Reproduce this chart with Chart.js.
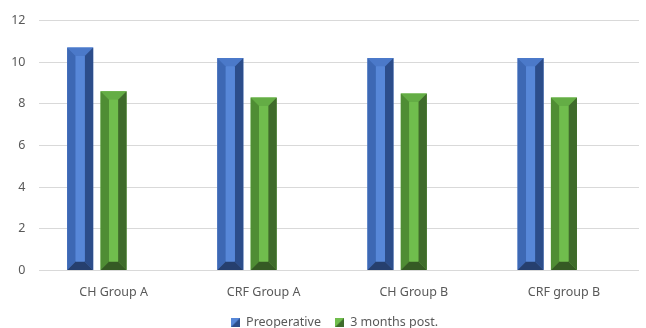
<!DOCTYPE html>
<html>
<head>
<meta charset="utf-8">
<script src="https://cdn.jsdelivr.net/npm/chart.js@4/dist/chart.umd.min.js"></script>
<style>
  html, body { margin: 0; padding: 0; background: #ffffff; }
  #wrap { width: 646px; height: 328px; position: relative; }
</style>
</head>
<body>
<div id="wrap"><canvas id="c" width="646" height="328"></canvas></div>
<script>
const categories = ['CH Group A', 'CRF Group A', 'CH Group B', 'CRF group B'];
const preoperative = [10.7, 10.2, 10.2, 10.2];
const threeMonthsPost = [8.6, 8.3, 8.5, 8.3];
const emptySeries = [null, null, null, null];
const yTicks = [0, 2, 4, 6, 8, 10, 12];

const palettes = [
  { top: '#4b79c9', left: '#3d68b4', center: '#5787d8', right: '#2c4d8a', bottom: '#263f6e' },
  { top: '#64ad45', left: '#4f8d34', center: '#70bd4d', right: '#3f6b2b', bottom: '#355a24' },
  null
];

function poly(ctx, pts, color) {
  ctx.beginPath();
  ctx.moveTo(pts[0][0], pts[0][1]);
  for (let i = 1; i < pts.length; i++) ctx.lineTo(pts[i][0], pts[i][1]);
  ctx.closePath();
  ctx.fillStyle = color;
  ctx.fill();
}

function drawBevel(ctx, L, R, T, B, p) {
  const w = R - L, h = B - T;
  const b = Math.min(8.5, w * 0.33, h / 2);
  poly(ctx, [[L, T], [R, T], [R - b, T + b], [L + b, T + b]], p.top);
  poly(ctx, [[L, T], [L + b, T + b], [L + b, B - b], [L, B]], p.left);
  poly(ctx, [[R, T], [R, B], [R - b, B - b], [R - b, T + b]], p.right);
  poly(ctx, [[L, B], [R, B], [R - b, B - b], [L + b, B - b]], p.bottom);
  poly(ctx, [[L + b, T + b], [R - b, T + b], [R - b, B - b], [L + b, B - b]], p.center);
}

const bevelPlugin = {
  id: 'bevel',
  afterDatasetsDraw(chart) {
    const ctx = chart.ctx;
    chart.data.datasets.forEach((ds, di) => {
      const p = palettes[di];
      if (!p) return;
      const meta = chart.getDatasetMeta(di);
      if (meta.hidden) return;
      meta.data.forEach((el) => {
        const props = el.getProps(['x', 'y', 'base', 'width'], true);
        if (props.y == null || isNaN(props.y)) return;
        const L = props.x - props.width / 2, R = props.x + props.width / 2;
        const T = Math.min(props.y, props.base), B = Math.max(props.y, props.base);
        ctx.save();
        drawBevel(ctx, L, R, T, B, p);
        ctx.restore();
      });
    });
  }
};

const legendShift = {
  id: 'legendShift',
  afterUpdate(chart) {
    if (chart.legend) { chart.legend.left += 15; chart.legend.right += 15; }
  }
};

function legendIcon(p) {
  const c = document.createElement('canvas');
  c.width = 9; c.height = 9;
  const x = c.getContext('2d');
  x.fillStyle = p.right; x.fillRect(0, 0, 9, 9);
  x.beginPath(); x.moveTo(0, 0); x.lineTo(9, 0); x.lineTo(0, 9); x.closePath();
  x.fillStyle = p.center; x.fill();
  return c;
}
const icons = [legendIcon(palettes[0]), legendIcon(palettes[1])];

const FONT = "'Noto Sans', 'Open Sans', sans-serif";
const TXT = '#595959';

new Chart(document.getElementById('c'), {
  type: 'bar',
  data: {
    labels: categories,
    datasets: [
      { label: 'Preoperative', data: preoperative, backgroundColor: palettes[0].center },
      { label: '3 months post.', data: threeMonthsPost, backgroundColor: palettes[1].center },
      { label: '', data: emptySeries, backgroundColor: 'rgba(0,0,0,0)' }
    ]
  },
  options: {
    responsive: false,
    animation: false,
    devicePixelRatio: 1,
    categoryPercentage: 0.667,
    barPercentage: 0.78,
    layout: { padding: { top: 12, right: 7, left: 0, bottom: -11 } },
    plugins: {
      tooltip: { enabled: false },
      legend: {
        position: 'bottom',
        labels: {
          color: TXT,
          font: { family: FONT, size: 12.5 },
          usePointStyle: true,
          boxWidth: 9,
          boxHeight: 9,
          padding: 14,
          filter: (item) => item.datasetIndex < 2,
          generateLabels: (chart) => chart.data.datasets.slice(0, 2).map((ds, i) => ({
            text: ds.label,
            pointStyle: icons[i],
            fillStyle: palettes[i].center,
            strokeStyle: palettes[i].center,
            lineWidth: 0,
            hidden: false,
            datasetIndex: i,
            fontColor: TXT
          }))
        }
      }
    },
    scales: {
      x: {
        afterFit: (scale) => { scale.height -= 11; },
        grid: { display: false, drawTicks: false },
        border: { display: false },
        ticks: { color: TXT, font: { family: FONT, size: 12.5 }, padding: 14 }
      },
      y: {
        min: 0, max: 12,
        afterBuildTicks: (scale) => { scale.ticks = yTicks.map(v => ({ value: v })); },
        afterFit: (scale) => { scale.width = 38.5; },
        grid: { color: '#d9d9d9', lineWidth: 1, drawTicks: false },
        border: { display: false },
        ticks: { color: TXT, font: { family: FONT, size: 12.5 }, padding: 13 }
      }
    }
  },
  plugins: [bevelPlugin, legendShift]
});
</script>
</body>
</html>
